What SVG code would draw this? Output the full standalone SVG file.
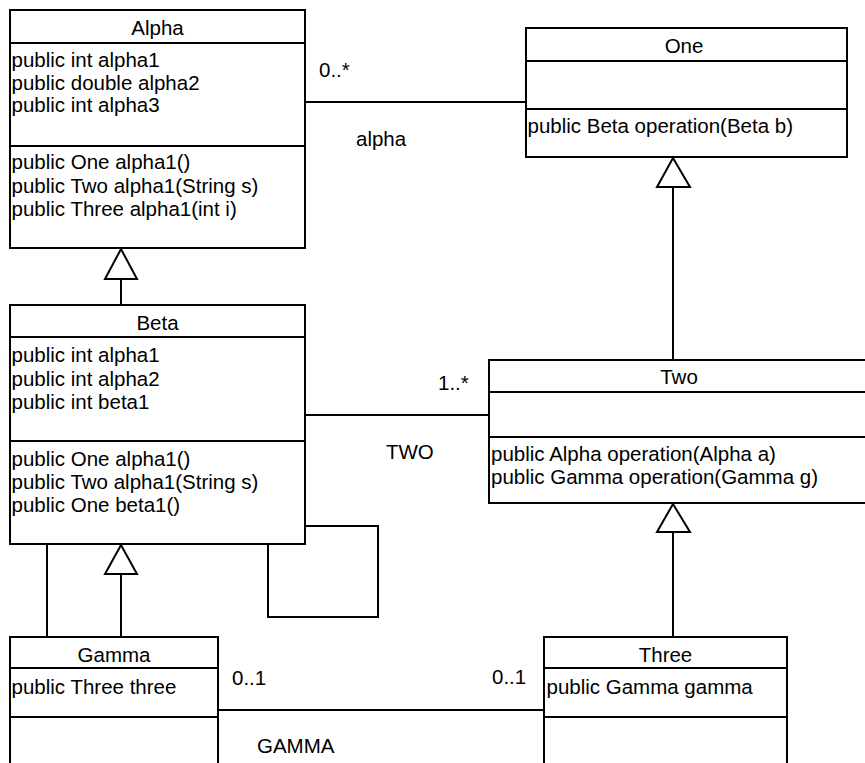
<svg xmlns="http://www.w3.org/2000/svg" width="865" height="763" viewBox="0 0 865 763">
  <style>
    .box { fill: #ffffff; stroke: #000000; stroke-width: 2; }
    .sep { stroke: #000000; stroke-width: 2; }
    .edge { fill: none; stroke: #000000; stroke-width: 2; }
    .tri { fill: #ffffff; stroke: #000000; stroke-width: 2; stroke-linejoin: miter; }
    text { font-family: "Liberation Sans", Arial, sans-serif; font-size: 20.5px; fill: #000000; }
    .title { text-anchor: middle; }
  </style>
  <rect x="0" y="0" width="865" height="763" fill="#ffffff"/>

  <!-- connectors -->
  <g id="connectors">
    <!-- Alpha — One association -->
    <line class="edge" x1="305" y1="102" x2="526" y2="102"/>
    <text x="319" y="77">0..*</text>
    <text x="356" y="146">alpha</text>

    <!-- Beta extends Alpha -->
    <line class="edge" x1="121" y1="305" x2="121" y2="279"/>
    <polygon class="tri" points="121,249 105,279 137,279"/>

    <!-- Two extends One -->
    <line class="edge" x1="673" y1="360" x2="673" y2="187"/>
    <polygon class="tri" points="673,158 657,187 690,187"/>

    <!-- Beta — Two association -->
    <line class="edge" x1="305" y1="415" x2="489" y2="415"/>
    <text x="438" y="390">1..*</text>
    <text x="386" y="459">TWO</text>

    <!-- Beta self association -->
    <polyline class="edge" points="305,526 378,526 378,617 268,617 268,544"/>

    <!-- Gamma — Beta association -->
    <line class="edge" x1="47" y1="544" x2="47" y2="637"/>

    <!-- Gamma extends Beta -->
    <line class="edge" x1="121" y1="637" x2="121" y2="574"/>
    <polygon class="tri" points="121,545 105,574 137,574"/>

    <!-- Three extends Two -->
    <line class="edge" x1="673" y1="637" x2="673" y2="532"/>
    <polygon class="tri" points="673,504 657,532 690,532"/>

    <!-- Gamma — Three association -->
    <line class="edge" x1="218" y1="710" x2="544" y2="710"/>
    <text x="232" y="685">0..1</text>
    <text x="492" y="684">0..1</text>
    <text x="257" y="753">GAMMA</text>
  </g>

  <!-- Alpha -->
  <g id="alpha">
    <rect class="box" x="10" y="10" width="295" height="238"/>
    <line class="sep" x1="10" y1="43" x2="305" y2="43"/>
    <line class="sep" x1="10" y1="146" x2="305" y2="146"/>
    <text class="title" x="157.5" y="35">Alpha</text>
    <text x="11.5" y="67">public int alpha1</text>
    <text x="11.5" y="89.5">public double alpha2</text>
    <text x="11.5" y="112">public int alpha3</text>
    <text x="11.5" y="169">public One alpha1()</text>
    <text x="11.5" y="192.5">public Two alpha1(String s)</text>
    <text x="11.5" y="216">public Three alpha1(int i)</text>
  </g>

  <!-- One -->
  <g id="one">
    <rect class="box" x="526" y="28" width="321" height="129"/>
    <line class="sep" x1="526" y1="61" x2="847" y2="61"/>
    <line class="sep" x1="526" y1="109" x2="847" y2="109"/>
    <text class="title" x="684" y="53">One</text>
    <text x="527.5" y="133">public Beta operation(Beta b)</text>
  </g>

  <!-- Beta -->
  <g id="beta">
    <rect class="box" x="10" y="305" width="295" height="239"/>
    <line class="sep" x1="10" y1="337" x2="305" y2="337"/>
    <line class="sep" x1="10" y1="441" x2="305" y2="441"/>
    <text class="title" x="157.5" y="330">Beta</text>
    <text x="11.5" y="362">public int alpha1</text>
    <text x="11.5" y="385.5">public int alpha2</text>
    <text x="11.5" y="408.5">public int beta1</text>
    <text x="11.5" y="465.5">public One alpha1()</text>
    <text x="11.5" y="489">public Two alpha1(String s)</text>
    <text x="11.5" y="511.5">public One beta1()</text>
  </g>

  <!-- Two -->
  <g id="two">
    <rect class="box" x="489" y="360" width="385" height="143"/>
    <line class="sep" x1="489" y1="392" x2="874" y2="392"/>
    <line class="sep" x1="489" y1="437" x2="874" y2="437"/>
    <text class="title" x="679" y="384">Two</text>
    <text x="491" y="461">public Alpha operation(Alpha a)</text>
    <text x="491" y="484">public Gamma operation(Gamma g)</text>
  </g>

  <!-- Gamma -->
  <g id="gamma">
    <rect class="box" x="10" y="637" width="208" height="200"/>
    <line class="sep" x1="10" y1="668" x2="218" y2="668"/>
    <line class="sep" x1="10" y1="717" x2="218" y2="717"/>
    <text class="title" x="114" y="662">Gamma</text>
    <text x="11.5" y="693.5">public Three three</text>
  </g>

  <!-- Three -->
  <g id="three">
    <rect class="box" x="544" y="637" width="243" height="200"/>
    <line class="sep" x1="544" y1="668" x2="787" y2="668"/>
    <line class="sep" x1="544" y1="717" x2="787" y2="717"/>
    <text class="title" x="665.5" y="662">Three</text>
    <text x="546.5" y="693.5">public Gamma gamma</text>
  </g>
</svg>
